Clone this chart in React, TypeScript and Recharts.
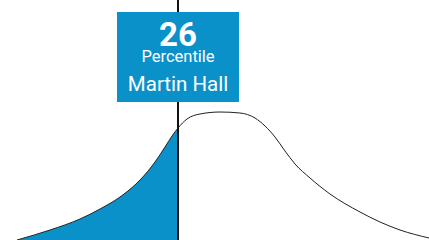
import React from "react";
import { ComposedChart, Area, Line, XAxis, YAxis, ReferenceLine } from "recharts";

const scores = [17, 50, 80, 100, 120, 140, 155, 165, 172, 178, 187, 200, 220, 240, 255, 265, 275, 285, 295, 310, 330, 360, 380, 400, 429];
const density = [0, 10, 21, 31, 43, 60, 78, 93, 104, 112, 121, 126, 128, 127, 122, 114, 103, 89, 76, 62, 46, 28, 18, 10, 2];
const studentScore = 178;
const percentile = 26;
const studentName = "Martin Hall";

const curve = scores.map((s, i) => ({ x: s, y: density[i] }));
const filled = curve.filter((p) => p.x <= studentScore);

const BLUE = "#0b91c9";

const BoxLabel = (props: any) => {
  const vb = props.viewBox || {};
  const cx = vb.x;
  const w = 122;
  const h = 90;
  const top = 12;
  return (
    <g>
      <rect x={cx - w / 2} y={top} width={w} height={h} fill={BLUE} />
      <text x={cx} y={46} textAnchor="middle" fill="#fff" fontFamily="Roboto" fontWeight="bold" fontSize={33}>{percentile}</text>
      <text x={cx} y={62} textAnchor="middle" fill="#fff" fontFamily="Roboto" fontSize={16.5}>Percentile</text>
      <text x={cx} y={91} textAnchor="middle" fill="#fff" fontFamily="Roboto" fontSize={20.5}>{studentName}</text>
    </g>
  );
};

export default function App() {
  return (
    <div style={{ position: "absolute", left: 0, top: 0, width: 429, height: 240, background: "#fff" }}>
      <ComposedChart width={429} height={240} margin={{ top: 0, right: 0, bottom: 0, left: 0 }}>
        <XAxis type="number" dataKey="x" domain={[0, 429]} hide allowDataOverflow />
        <YAxis type="number" dataKey="y" domain={[0, 240]} hide allowDataOverflow />
        <Area data={filled} dataKey="y" type="monotone" fill={BLUE} fillOpacity={1} stroke="none" dot={false} activeDot={false} isAnimationActive={false} />
        <Line data={curve} dataKey="y" type="monotone" stroke="#222" strokeWidth={1} dot={false} activeDot={false} isAnimationActive={false} />
        <ReferenceLine x={studentScore} stroke="#111" strokeWidth={2} ifOverflow="visible" label={<BoxLabel />} />
      </ComposedChart>
    </div>
  );
}
